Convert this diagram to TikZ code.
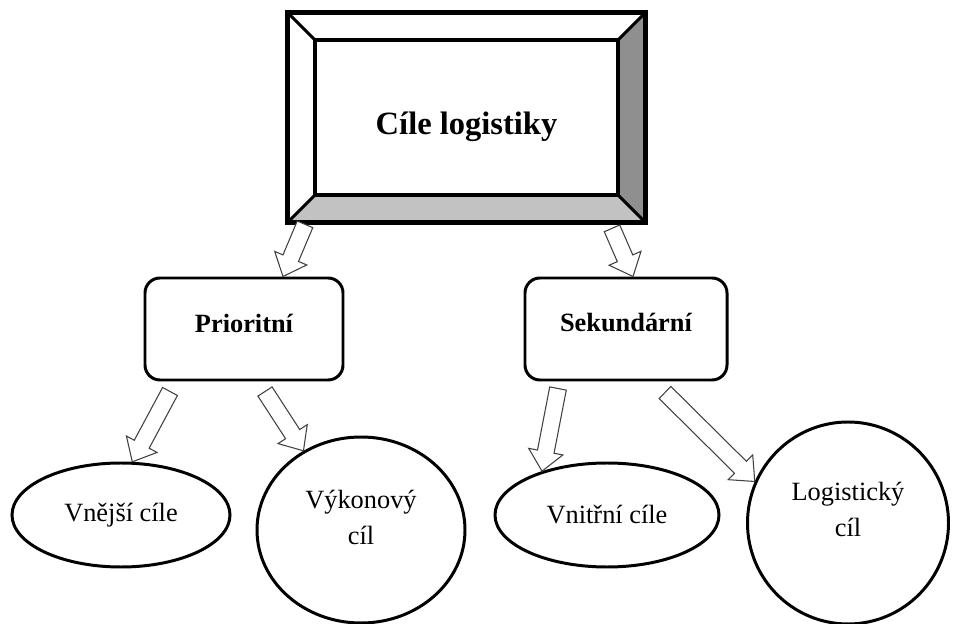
\documentclass[tikz,border=0pt]{standalone}
\usepackage{fontspec}
\setmainfont{Liberation Serif}
\usetikzlibrary{calc,shapes.geometric}
\tikzset{
  frame/.style={line width=2.6pt, line join=miter},
  box/.style={draw, line width=1.7pt, rounded corners=0.3cm, minimum width=3.96cm,
    minimum height=2.04cm},
  boxtext/.style={yshift=0.12cm, font=\fontsize{15}{18}\selectfont\bfseries},
  goal/.style={draw, ellipse, line width=1.7pt, inner sep=0pt,
    font=\fontsize{15}{20}\selectfont},
  goaltext/.style={align=center, yshift=0.25cm, font=\fontsize{15}{20}\selectfont},
  block arrow/.style={draw=black!75, fill=white, line width=0.6pt, line join=miter,
    to path={let \p1=(\tikztostart), \p2=(\tikztotarget),
      \n1={atan2(\y2-\y1,\x2-\x1)}, \n2={veclen(\x2-\x1,\y2-\y1)-11.3} in
      ($(\p1)+(\n1+90:4.8pt)$) -- ($(\p1)+(\n1:{\n2*1pt})+(\n1+90:4.8pt)$)
      -- ($(\p1)+(\n1:{\n2*1pt})+(\n1+90:9.9pt)$) -- (\p2)
      -- ($(\p1)+(\n1:{\n2*1pt})+(\n1-90:9.9pt)$)
      -- ($(\p1)+(\n1:{\n2*1pt})+(\n1-90:4.8pt)$)
      -- ($(\p1)+(\n1-90:4.8pt)$) -- cycle}}
}
\begin{document}
\begin{tikzpicture}
    \useasboundingbox (0, 0) rectangle (19.16, -12.48);
    \draw (9.33, -2.35) node[minimum width=6.06cm, minimum height=3.1cm,
        label={[yshift=-0.18cm, font=\fontsize{18.5}{22}\selectfont\bfseries]center:Cíle logistiky}](top){};
    \coordinate (onw) at ([shift={(-0.54, 0.54)}]top.north west);
    \coordinate (one) at ([shift={(0.54, 0.54)}]top.north east);
    \coordinate (osw) at ([shift={(-0.54, -0.54)}]top.south west);
    \coordinate (ose) at ([shift={(0.54, -0.54)}]top.south east);
    \fill[black!44] (top.north east) -- (one) -- (ose) -- (top.south east) -- cycle;
    \fill[black!24] (top.south west) -- (top.south east) -- (ose) -- (osw) -- cycle;
    \draw[frame] (onw) rectangle (ose);
    \draw[frame, line width=2.2pt] (top.north west) rectangle (top.south east);
    \draw[frame, line width=1.8pt] (onw) -- (top.north west) (one) -- (top.north east)
        (osw) -- (top.south west) (ose) -- (top.south east);

    \draw (4.88, -6.58) node[box, label={[boxtext]center:Prioritní}](prio){};
    \draw (12.52, -6.58) node[box, minimum width=4.04cm,
        label={[boxtext]center:Sekundární}](sek){};

    \draw (2.42, -10.3) node[goal, minimum width=4.36cm, minimum height=2.08cm](vnejsi){Vnější cíle};
    \draw (7.22, -10.6) node[goal, minimum width=4.16cm, minimum height=3.72cm,
        label={[goaltext]center:Výkonový\\cíl}](vykon){};
    \draw (12.14, -10.3) node[goal, minimum width=4.48cm, minimum height=2.08cm](vnitr){Vnitřní cíle};
    \draw (16.96, -10.46) node[goal, minimum width=4.02cm, minimum height=4.04cm,
        label={[goaltext, yshift=0.02cm]center:Logistický\\cíl}](logist){};

    \coordinate (s1) at ([shift={(-3.23, -0.58)}]top.south);
    \coordinate (t1) at ([xshift=0.78cm]prio.north);
    \coordinate (s2) at ([shift={(2.91, -0.66)}]top.south);
    \coordinate (t2) at ([xshift=0.14cm]sek.north);
    \coordinate (s3) at ([shift={(-1.48, -0.2)}]prio.south);
    \coordinate (s4) at ([shift={(0.42, -0.2)}]prio.south);
    \coordinate (s5) at ([shift={(-1.36, -0.14)}]sek.south);
    \coordinate (s6) at ([shift={(0.78, -0.22)}]sek.south);
    \coordinate (t3) at (vnejsi.78);
    \coordinate (t4) at (vykon.126);
    \coordinate (t5) at (vnitr.146);
    \coordinate (t6) at (logist.156);
    \draw[block arrow] (s1) to (t1);
    \draw[block arrow] (s2) to (t2);
    \draw[block arrow] (s3) to (t3);
    \draw[block arrow] (s4) to (t4);
    \draw[block arrow] (s5) to (t5);
    \draw[block arrow] (s6) to (t6);
\end{tikzpicture}
\end{document}
